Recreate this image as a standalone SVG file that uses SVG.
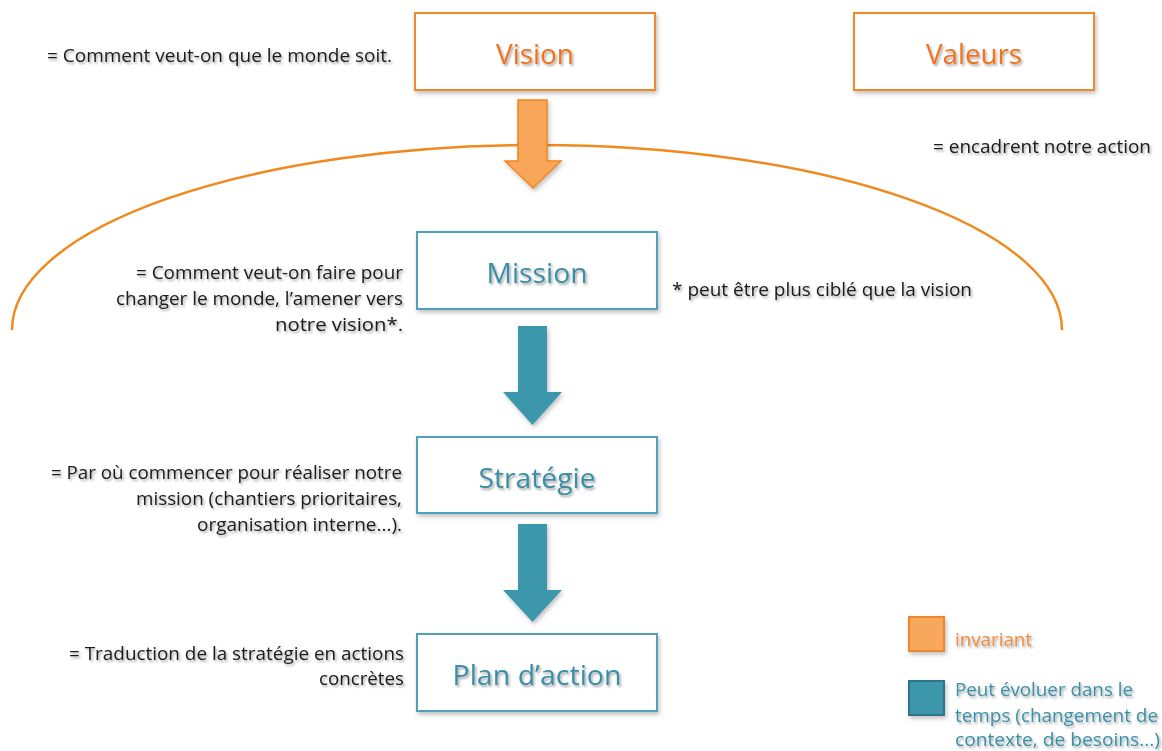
<svg xmlns="http://www.w3.org/2000/svg" width="1162" height="751" viewBox="0 0 1162 751">
  <defs>
    <filter id="shadow" x="-10%" y="-20%" width="130%" height="160%">
      <feDropShadow dx="1.5" dy="2" stdDeviation="1.3" flood-color="#000" flood-opacity="0.35"/>
    </filter>
    <filter id="boxshadow" x="-10%" y="-10%" width="130%" height="140%">
      <feDropShadow dx="1.5" dy="2.5" stdDeviation="2" flood-color="#000" flood-opacity="0.25"/>
    </filter>
  </defs>
  <style>
    .box-or { fill: #fff; stroke: #F0892A; stroke-width: 2; filter: url(#boxshadow); }
    .box-te { fill: #fff; stroke: #4FA2B8; stroke-width: 2; filter: url(#boxshadow); }
    .title { font-family: "Open Sans", Lato, "Liberation Sans", sans-serif; font-size: 28px; text-anchor: middle; filter: url(#shadow); }
    .t-or { fill: #F2711C; }
    .t-te { fill: #3B8EA6; }
    .note { font-family: "Open Sans", Lato, "Liberation Sans", sans-serif; font-size: 18px; fill: #1a1a1a; filter: url(#shadow); }
    .r { text-anchor: end; }
    .arr-or { fill: #F7A65A; stroke: #F0861E; stroke-width: 1.5; filter: url(#boxshadow); }
    .arr-te { fill: #3C97AC; stroke: none; filter: url(#boxshadow); }
    .leg { font-family: "Open Sans", Lato, "Liberation Sans", sans-serif; font-size: 18px; filter: url(#shadow); }
  </style>

  <!-- Frame arc around the core of the organisation -->
  <path id="frame-arc" d="M12,330 A525,185 0 0 1 1062,330" fill="none" stroke="#EE8A1E" stroke-width="2.5"/>

  <!-- Nodes -->
  <g id="vision">
    <rect class="box-or" x="415" y="13" width="240" height="77"/>
    <text class="title t-or" x="535" y="64" textLength="78" lengthAdjust="spacingAndGlyphs">Vision</text>
  </g>
  <g id="valeurs">
    <rect class="box-or" x="854" y="13" width="240" height="77"/>
    <text class="title t-or" x="974" y="64" textLength="96" lengthAdjust="spacingAndGlyphs">Valeurs</text>
  </g>
  <g id="mission">
    <rect class="box-te" x="417" y="232" width="240" height="77"/>
    <text class="title t-te" x="537" y="283" textLength="101" lengthAdjust="spacingAndGlyphs">Mission</text>
  </g>
  <g id="strategie">
    <rect class="box-te" x="417" y="437" width="240" height="76"/>
    <text class="title t-te" x="537" y="488" textLength="117" lengthAdjust="spacingAndGlyphs">Stratégie</text>
  </g>
  <g id="plan-action">
    <rect class="box-te" x="417" y="634" width="240" height="77"/>
    <text class="title t-te" x="537" y="685" textLength="169" lengthAdjust="spacingAndGlyphs">Plan d’action</text>
  </g>

  <!-- Connectors -->
  <g id="connectors">
    <path class="arr-or" d="M518,100 H547 V161 H561 L533,188 L505,161 H518 Z"/>
    <path class="arr-te" d="M518,326 H547 V392 H562 L532.5,425 L503,392 H518 Z"/>
    <path class="arr-te" d="M518,524 H547 V590 H562 L532.5,622 L503,590 H518 Z"/>
  </g>

  <!-- Annotations -->
  <g id="notes">
    <text class="note r" x="392" y="62" textLength="345" lengthAdjust="spacingAndGlyphs">= Comment veut-on que le monde soit.</text>
    <text class="note" x="933" y="153" textLength="218" lengthAdjust="spacingAndGlyphs">= encadrent notre action</text>
    <text class="note" x="672" y="296" textLength="300" lengthAdjust="spacingAndGlyphs">* peut être plus ciblé que la vision</text>

    <text class="note r" x="403" y="279" textLength="267" lengthAdjust="spacingAndGlyphs">= Comment veut-on faire pour</text>
    <text class="note r" x="403" y="305" textLength="287" lengthAdjust="spacingAndGlyphs">changer le monde, l’amener vers</text>
    <text class="note r" x="403" y="331" textLength="128" lengthAdjust="spacingAndGlyphs">notre vision*.</text>

    <text class="note r" x="402" y="479" textLength="351" lengthAdjust="spacingAndGlyphs">= Par où commencer pour réaliser notre</text>
    <text class="note r" x="402" y="505" textLength="266" lengthAdjust="spacingAndGlyphs">mission (chantiers prioritaires,</text>
    <text class="note r" x="402" y="531" textLength="205" lengthAdjust="spacingAndGlyphs">organisation interne...).</text>

    <text class="note r" x="404" y="660" textLength="335" lengthAdjust="spacingAndGlyphs">= Traduction de la stratégie en actions</text>
    <text class="note r" x="404" y="685" textLength="85" lengthAdjust="spacingAndGlyphs">concrètes</text>
  </g>

  <!-- Legend -->
  <g id="legend">
    <rect x="909" y="617" width="35" height="34" fill="#F7A85C" stroke="#F0862A" stroke-width="2" filter="url(#boxshadow)"/>
    <text class="leg" x="955" y="646" fill="#F08A3C" textLength="77" lengthAdjust="spacingAndGlyphs">invariant</text>
    <rect x="909" y="681" width="35" height="34" fill="#3C97AC" stroke="#2E7488" stroke-width="2" filter="url(#boxshadow)"/>
    <text class="leg" x="955" y="696" fill="#3B8FA6" textLength="178" lengthAdjust="spacingAndGlyphs">Peut évoluer dans le</text>
    <text class="leg" x="955" y="722" fill="#3B8FA6" textLength="203" lengthAdjust="spacingAndGlyphs">temps (changement de</text>
    <text class="leg" x="955" y="746" fill="#3B8FA6" textLength="205" lengthAdjust="spacingAndGlyphs">contexte, de besoins...)</text>
  </g>
</svg>
